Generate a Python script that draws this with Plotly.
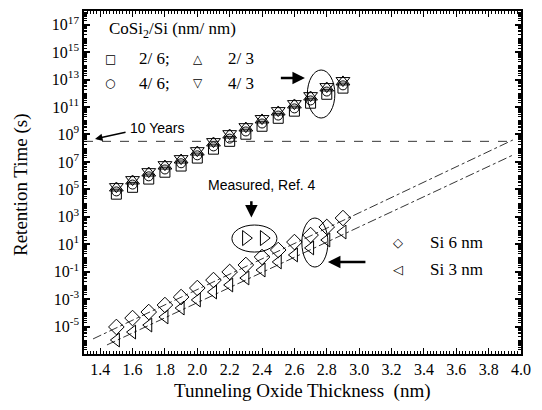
import numpy as np
import plotly.graph_objects as go

# ---- data ----
thickness = [1.5, 1.6, 1.7, 1.8, 1.9, 2.0, 2.1, 2.2, 2.3, 2.4, 2.5, 2.6, 2.7, 2.8, 2.9]

# CoSi2/Si stacks (log10 retention time, s)
log_2_6 = [4.65, 5.15, 5.75, 6.25, 6.70, 7.28, 7.93, 8.50, 9.02, 9.60, 10.18, 10.70, 11.28, 11.93, 12.38]
log_4_6 = [4.85, 5.35, 5.95, 6.45, 6.90, 7.48, 8.13, 8.70, 9.22, 9.80, 10.38, 10.90, 11.48, 12.13, 12.58]
log_2_3 = [5.10, 5.61, 6.19, 6.70, 7.14, 7.72, 8.38, 8.96, 9.47, 10.06, 10.64, 11.15, 11.73, 12.39, 12.83]
log_4_3 = [5.20, 5.71, 6.29, 6.80, 7.24, 7.82, 8.48, 9.06, 9.57, 10.16, 10.74, 11.25, 11.83, 12.49, 12.93]

# Si dots
log_si6 = [-5.03, -4.38, -3.94, -3.43, -2.85, -2.19, -1.61, -1.02, -0.51, 0.07, 0.58, 1.16, 1.67, 2.26, 2.91]
log_si3 = [-5.98, -5.40, -4.89, -4.30, -3.65, -3.06, -2.48, -1.97, -1.46, -0.88, -0.29, 0.22, 0.73, 1.31, 1.89]

# fitted extrapolation lines (end points)
fit6_x = [1.356, 3.95]
fit6_log = [-5.9, 8.6]
fit3_x = [1.442, 3.95]
fit3_log = [-6.34, 7.5]

# measured (Ref. 4)
meas_x = [2.30, 2.41]
meas_log = [1.45, 1.45]

ten_years_log = 8.5
ten_years_x = [1.3, 3.95]

y_exps = list(range(-7, 19))
y_label_exps = [17, 15, 13, 11, 9, 7, 5, 3, 1, -1, -3, -5]
x_ticks = [1.4, 1.6, 1.8, 2.0, 2.2, 2.4, 2.6, 2.8, 3.0, 3.2, 3.4, 3.6, 3.8, 4.0]

def p10(v):
    return [10 ** a for a in v]

SERIF = "Liberation Serif"
SANS = "Liberation Sans"

fig = go.Figure()

def mk(x, y, sym, size):
    fig.add_trace(go.Scatter(
        x=x, y=p10(y), mode="markers", showlegend=False,
        marker=dict(symbol=sym, size=size, color="black",
                    line=dict(color="black", width=1)),
        hoverinfo="skip"))

# fit lines
for fx, fy in [(fit6_x, fit6_log), (fit3_x, fit3_log)]:
    fig.add_trace(go.Scatter(x=fx, y=p10(fy), mode="lines", showlegend=False,
                             line=dict(color="black", width=0.8, dash="dashdot"),
                             hoverinfo="skip"))
# 10 years line
fig.add_trace(go.Scatter(x=ten_years_x, y=p10([ten_years_log] * 2), mode="lines",
                         showlegend=False,
                         line=dict(color="black", width=0.8, dash="dash"),
                         hoverinfo="skip"))

mk(thickness, log_2_6, "square-open", 10)
mk(thickness, log_4_6, "circle-open", 9)
mk(thickness, log_2_3, "triangle-up-open", 12)
mk(thickness, log_4_3, "triangle-down-open", 12)
mk(thickness, log_si6, "diamond-open", 12)
mk(thickness, log_si3, "triangle-left-open", 12)
mk(meas_x, meas_log, "triangle-right-open", 13)

# axes
L, R, T, B = 84, 21, 11, 56
W, H = 542, 410
pw, ph = W - L - R, H - T - B

def px(x):
    return (x - L) / pw

def py(y):
    return (H - B - y) / ph

tickvals = [10 ** e for e in y_label_exps]
ticktext = ["10<sup>%d</sup>" % e for e in y_label_exps]
y_minor = [m * 10 ** e for e in y_exps[:-1] for m in range(1, 10)
           if not (m == 1 and e in y_label_exps)]
x_minor = [round(1.3 + 0.02 * i, 2) for i in range(136)]

fig.update_xaxes(range=[1.3, 4.0], tickvals=x_ticks,
                 ticktext=["%.1f" % v for v in x_ticks],
                 ticks="inside", ticklen=6, tickwidth=1, tickcolor="black",
                 minor=dict(ticks="inside", ticklen=3, tickvals=x_minor,
                            tickcolor="black", tickwidth=1),
                 showline=True, linecolor="black", linewidth=1.5, mirror="ticks",
                 showgrid=False, zeroline=False, automargin=False,
                 tickfont=dict(family=SERIF, size=16, color="black"))
fig.update_yaxes(type="log", range=[-7, 18], tickvals=tickvals, ticktext=ticktext,
                 ticks="inside", ticklen=6, tickwidth=1.5, tickcolor="black",
                 minor=dict(ticks="inside", ticklen=3.5, tickvals=y_minor,
                            tickcolor="black", tickwidth=1),
                 showline=True, linecolor="black", linewidth=1.5, mirror="ticks",
                 showgrid=False, zeroline=False, automargin=False,
                 tickfont=dict(family=SERIF, size=16, color="black"))

ann = []

def txt(x, y, s, size=16, fam=SERIF, xanchor="left", angle=0):
    ann.append(dict(x=px(x), y=py(y), xref="paper", yref="paper", text=s,
                    showarrow=False, xanchor=xanchor, yanchor="middle",
                    textangle=angle,
                    font=dict(family=fam, size=size, color="black")))

# axis titles
txt(302, 391, "Tunneling Oxide Thickness  (nm)", 19, SERIF, "center")
txt(21, 185, "Retention Time (s)", 19, SERIF, "center", -90)

txt(107, 30, "CoSi<sub>2</sub>/Si (nm/ nm)", 17)
txt(110, 59, "□", 12, "DejaVu Sans", "center")
txt(137, 59, "2/ 6;", 17)
txt(198, 59, "△", 12, "DejaVu Sans", "center")
txt(226, 59, "2/ 3", 17)
txt(110, 83, "○", 12, "DejaVu Sans", "center")
txt(137, 83, "4/ 6;", 17)
txt(198, 83, "▽", 12, "DejaVu Sans", "center")
txt(226, 83, "4/ 3", 17)

txt(398, 243, "◇", 13, "DejaVu Sans", "center")
txt(428, 243, "Si 6 nm", 17)
txt(398, 269, "◁", 13, "DejaVu Sans", "center")
txt(428, 269, "Si 3 nm", 17)

txt(128, 128, "10 Years", 14, SANS)
txt(262, 185, "Measured, Ref. 4", 14, SANS, "center")

def arrow(x_head, ylog_head, x_tail, ylog_tail, width=2.5):
    ann.append(dict(x=x_head, y=ylog_head, ax=x_tail, ay=ylog_tail,
                    xref="x", yref="y", axref="x", ayref="y", text="",
                    showarrow=True, arrowhead=2, arrowsize=1, arrowwidth=width,
                    arrowcolor="black"))

arrow(2.665, 13.12, 2.507, 13.12, 2.5)
arrow(2.807, -0.29, 3.048, -0.29, 2.5)
arrow(2.334, 2.95, 2.334, 4.25, 2.5)
arrow(1.368, 8.67, 1.566, 9.18, 1.5)

shapes = []
for x0, x1, l0, l1 in [(2.68, 2.85, 10.2, 13.7), (2.646, 2.807, -0.66, 2.91),
                       (2.214, 2.492, 0.43, 2.40)]:
    shapes.append(dict(type="circle", xref="x", yref="y", x0=x0, x1=x1,
                       y0=10 ** l0, y1=10 ** l1,
                       line=dict(color="black", width=1)))

fig.update_layout(width=W, height=H, margin=dict(l=L, r=R, t=T, b=B),
                  paper_bgcolor="white", plot_bgcolor="white",
                  annotations=ann, shapes=shapes, showlegend=False)

fig.write_html("out.html", config={"displayModeBar": False},
               post_script="document.body.style.margin='0';document.body.style.overflow='hidden';")
